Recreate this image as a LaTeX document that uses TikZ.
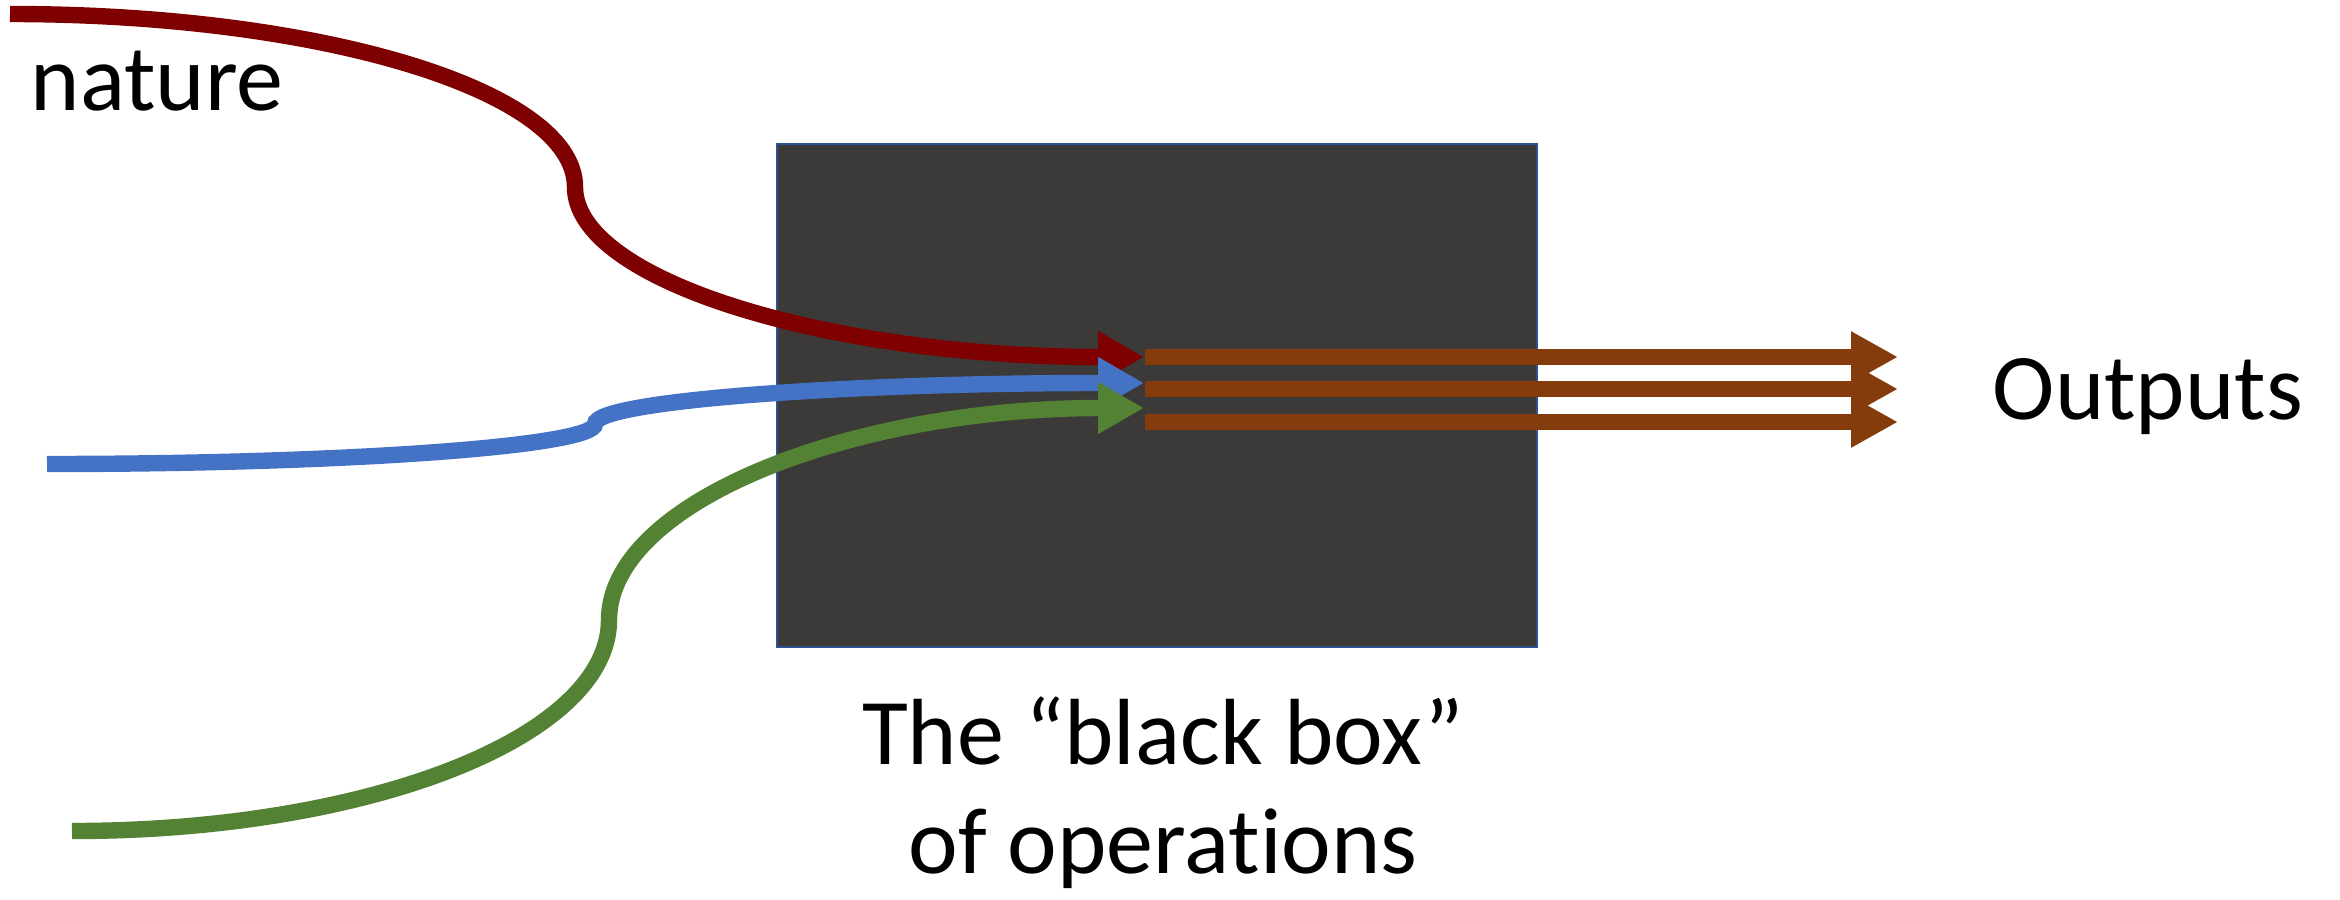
\documentclass[tikz,border=0pt]{standalone}
\usepackage{fontspec}
\setmainfont[Ligatures={NoCommon,NoContextual}]{Carlito}
\usetikzlibrary{arrows.meta}
\definecolor{cred}{HTML}{7F0000}
\definecolor{cblue}{HTML}{4472C4}
\definecolor{cgreen}{HTML}{548235}
\definecolor{cbrown}{HTML}{843C0C}
\definecolor{cbox}{HTML}{3B3A38}
\definecolor{cborder}{HTML}{2F528F}
\begin{document}
\begin{tikzpicture}[x=0.25pt,y=-0.25pt,
  flow/.style={line width=4.1pt},
  intip/.style={-{Triangle[length=11.5pt,width=12.2pt]}},
  outflow/.style={line width=4.1pt, draw=cbrown, -{Triangle[length=11.75pt,width=12pt]}},
  lbl/.style={font=\fontsize{23.5}{28}\selectfont, inner sep=0pt}]
\useasboundingbox (0,0) rectangle (2340,899);
% black box
\node[draw=cborder, fill=cbox, line width=0.5pt, inner sep=0pt,
      minimum width=190pt, minimum height=125.75pt] (box) at (1157,395.5) {};
% input curves
\coordinate (rs) at (10,14);
\coordinate (rk) at (575,187);
\coordinate (re) at (1144,357);
\coordinate (bs) at (47,464);
\coordinate (bk) at (595,424);
\coordinate (be) at (1144,383);
\coordinate (gs) at (72,831);
\coordinate (gk) at (609,620);
\coordinate (ge) at (1144,408);
\draw[flow, cred, intip] (rs) .. controls +(312,0) and +(0,-96) .. (rk)
                              .. controls +(0,94) and +(-314,0) .. (re);
\draw[flow, cblue, intip] (bs) .. controls +(302,0) and +(0,22) .. (bk)
                               .. controls +(0,-23) and +(-302,0) .. (be);
\draw[flow, cgreen, intip] (gs) .. controls +(297,0) and +(0,117) .. (gk)
                                .. controls +(0,-117) and +(-295,0) .. (ge);
% outputs
\coordinate (o1s) at (1145,357);
\coordinate (o1e) at (1898,357);
\coordinate (o2s) at (1145,389);
\coordinate (o2e) at (1898,389);
\coordinate (o3s) at (1145,422);
\coordinate (o3e) at (1898,422);
\draw[outflow] (o1s) -- (o1e);
\draw[outflow] (o2s) -- (o2e);
\draw[outflow] (o3s) -- (o3e);
% labels
\node[lbl, anchor=base west] (nat) at (30,110) {nature};
\node[lbl, anchor=base west] (out) at (1992,419) {Outputs};
\node[lbl, anchor=base] (cap1) at (1163,764) {The “black box”};
\node[lbl, anchor=base] (cap2) at (1163,873) {of operations};
\end{tikzpicture}
\end{document}
